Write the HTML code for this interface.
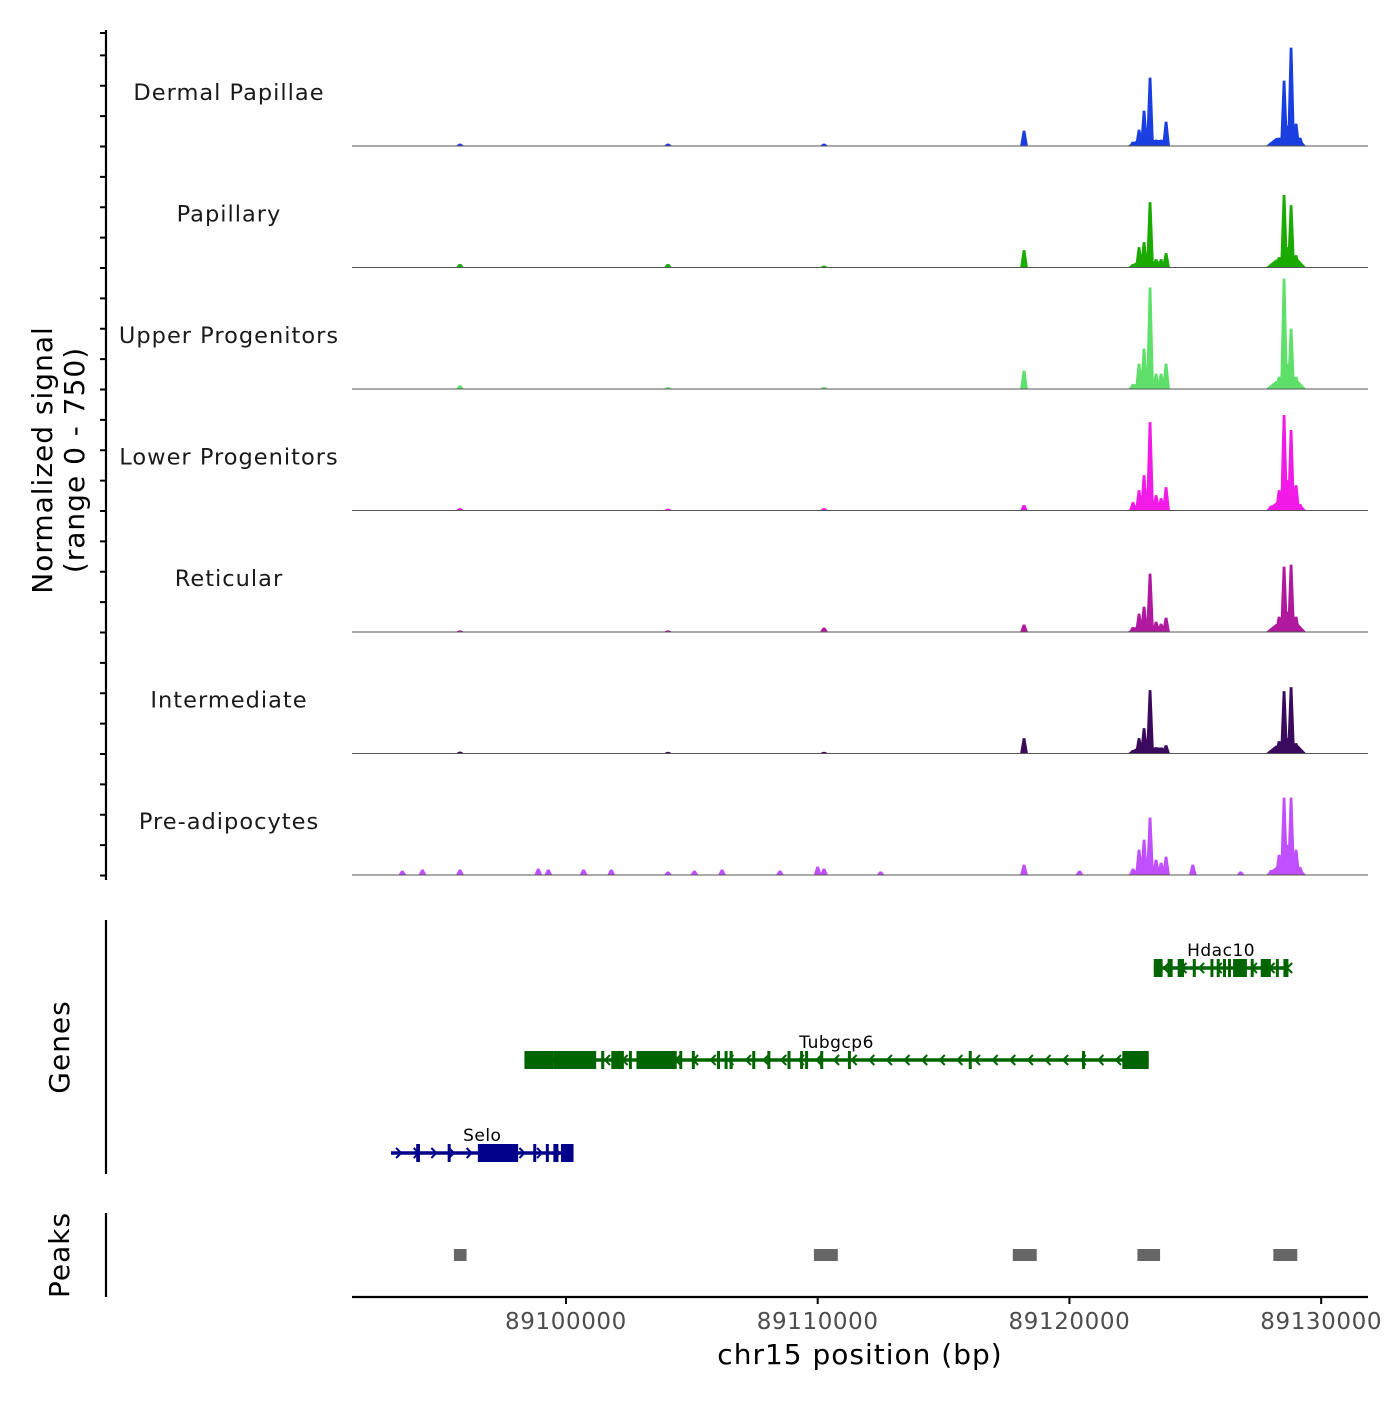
<!DOCTYPE html>
<html><head><meta charset="utf-8"><style>
body{margin:0;background:#fff}
svg text{font-family:"DejaVu Sans","Liberation Sans",sans-serif}
</style></head><body>
<svg id="chart" width="1400" height="1400"></svg>
<script>
const trackNames=["Dermal Papillae","Papillary","Upper Progenitors","Lower Progenitors","Reticular","Intermediate","Pre-adipocytes"];
const trackColors=["#1a3fe0","#1aaa00","#5ee06a","#f21ae6","#b0189e","#3a0a5e","#c050ff"];
// peak positions (bp) shared by tracks
const peakPos=[89095789,89104052,89110250,89118196,89122527,89122765,89122964,89123202,89123441,89123640,89123838,89128010,89128327,89128526,89128685,89128804,89129003,89129162];
// signal heights (0-750 scale)
const sigDermal=[13,13,13,98,26,104,228,443,39,39,156,20,52,424,130,639,143,52];
const sigPapillary=[20,20,10,111,20,130,163,424,52,52,91,15,65,470,130,404,78,20];
const sigUpper=[20,10,10,117,30,163,261,659,98,98,163,20,78,717,163,391,78,20];
const sigLower=[13,10,13,33,52,130,228,574,98,78,150,30,130,620,196,522,163,40];
const sigReticular=[8,8,26,46,30,117,163,378,65,52,91,20,98,424,130,437,98,30];
const sigIntermediate=[10,8,8,98,20,98,163,411,39,33,52,20,78,404,98,430,65,20];
const sigPreadipo=[33,20,40,65,40,163,228,372,98,78,117,30,130,502,196,502,163,50];
const signals=[sigDermal,sigPapillary,sigUpper,sigLower,sigReticular,sigIntermediate,sigPreadipo];
// extra small peaks for pre-adipocytes
const preExtraPos=[89093500,89094300,89098900,89099300,89100700,89101800,89105100,89106200,89108500,89110000,89112500,89120400,89124900,89126800];
const preExtraVal=[26,33,39,33,33,33,26,33,26,52,20,26,65,20];
// gene models
const geneNames=["Hdac10","Tubgcp6","Selo"];
const geneStart=[89123350,89098350,89093050];
const geneEnd=[89128700,89123150,89100300];
const geneRow=[0,1,2];
const geneStrand=[-1,-1,1];
const geneColor=["#006400","#006400","#00008b"];
const exonsHdac10=[[89123350,89123700],[89123900,89124100],[89124300,89124550],[89124900,89125000],[89125600,89125700],[89125850,89125950],[89126100,89126200],[89126300,89126400],[89126500,89127050],[89127200,89127300],[89127600,89128000],[89128200,89128300],[89128500,89128700]];
const exonsTubgcp6=[[89098350,89099500],[89099500,89101200],[89101400,89101500],[89101800,89102300],[89102500,89102600],[89102800,89104400],[89104500,89104600],[89105000,89105100],[89106000,89106100],[89106300,89106400],[89106500,89106600],[89107400,89107500],[89108000,89108100],[89108800,89108900],[89109300,89109400],[89109500,89109600],[89110100,89110200],[89111200,89111300],[89116000,89116100],[89120500,89120600],[89122100,89123150]];
const exonsSelo=[[89094050,89094200],[89095300,89095400],[89096500,89098100],[89098700,89098800],[89099200,89099300],[89099500,89099700],[89099800,89100300]];
const exonLists=[exonsHdac10,exonsTubgcp6,exonsSelo];
const peakStarts=[89095550,89109850,89117750,89122700,89128100];
const peakEnds=[89096050,89110800,89118700,89123600,89129050];
const xTicks=[89100000,89110000,89120000,89130000];

const NS="http://www.w3.org/2000/svg";
const svg=document.getElementById('chart');
function mk(t,a,p){const e=document.createElementNS(NS,t);for(const k in a)e.setAttribute(k,a[k]);(p||svg).appendChild(e);return e;}
const X0=352,X1=1368,BP0=89091500,BP1=89131860;
const xs=bp=>X0+(bp-BP0)/(BP1-BP0)*(X1-X0);
const TH=115, base0=146, step=121.5;
const ys=(v,b)=>b-v/750*TH;

// y axis
let ax=mk('line',{x1:106,y1:30,x2:106,y2:880,stroke:'#000','stroke-width':2.2});

for(let i=0;i<7;i++){for(let j=0;j<4;j++){const y=base0+i*step-j*step/4+0.5;const t=mk('line',{x1:100,y1:y,x2:106,y2:y,stroke:'#000','stroke-width':2});}}
{const t=mk('line',{x1:100,y1:33,x2:106,y2:33,stroke:'#000','stroke-width':2});}
let yt=mk('text',{transform:'translate(52,460) rotate(-90)','text-anchor':'middle','font-size':28,'letter-spacing':1});

mk('tspan',{x:0,dy:0},yt).textContent='Normalized signal';
mk('tspan',{x:0,dy:32},yt).textContent='(range 0 - 750)';

function drawTrack(i,pos,vals,extraPos,extraVal){
  const b=base0+i*step;
  const g=mk('g',{});
  const lab=mk('text',{x:229,y:b-46,'text-anchor':'middle','font-size':22.5,'letter-spacing':1,fill:'#1a1a1a'},g);lab.textContent=trackNames[i];
  
  let all=pos.map((p,k)=>[p,vals[k]]);
  if(extraPos)extraPos.forEach((p,k)=>all.push([p,extraVal[k]]));
  all.sort((a,b)=>a[0]-b[0]);
  let d='M'+X0+','+b;
  all.forEach(([p,v])=>{const x=xs(p);d+=` L${x-3.5},${b} L${x-1},${ys(v,b)} L${x+1},${ys(v,b)} L${x+3.5},${b}`;});
  d+=` L${X1},${b} Z`;
  const pa=mk('path',{d:d,fill:trackColors[i],stroke:trackColors[i],'stroke-width':0.8},g);
  
  const c1=mk('path',{d:`M${xs(89122300)},${b} L${xs(89122700)},${b-6} L${xs(89123700)},${b-6} L${xs(89124000)},${b}Z M${xs(89127800)},${b} L${xs(89128200)},${b-8} L${xs(89129100)},${b-8} L${xs(89129400)},${b}Z`,fill:trackColors[i]},g);
  
  const bl=mk('line',{x1:X0,y1:b,x2:X1,y2:b,stroke:'#555','stroke-width':1},g);
  
}
signals.forEach((s,i)=>drawTrack(i,peakPos,s,i===6?preExtraPos:null,i===6?preExtraVal:null));

// genes panel
let ga=mk('line',{x1:106,y1:920,x2:106,y2:1174,stroke:'#000','stroke-width':2.2});

let gt=mk('text',{transform:'translate(69,1047) rotate(-90)','text-anchor':'middle','font-size':28,'letter-spacing':1});
gt.textContent='Genes';
const rowY=[968,1060,1153];
geneNames.forEach((n,i)=>{
  const y=rowY[geneRow[i]],c=geneColor[i];
  const g=mk('g',{});
  mk('line',{x1:xs(geneStart[i]),y1:y,x2:xs(geneEnd[i]),y2:y,stroke:c,'stroke-width':3.5},g);
  for(let p=geneStart[i]+400;p<geneEnd[i];p+=700){const x=xs(p),s=geneStrand[i]*5;
    mk('path',{d:`M${x-s},${y-5} L${x},${y} L${x-s},${y+5}`,stroke:c,fill:'none','stroke-width':2},g);}
  exonLists[i].forEach(e=>{const x=xs(e[0]),w=Math.max(3,xs(e[1])-x);
    const r=mk('rect',{x:x,y:y-9,width:w,height:18,fill:c},g);});
  const t=mk('text',{x:(xs(geneStart[i])+xs(geneEnd[i]))/2,y:y-12,'text-anchor':'middle','font-size':17,'letter-spacing':0.5},g);t.textContent=n;
});

// peaks panel
let pa=mk('line',{x1:106,y1:1213,x2:106,y2:1297,stroke:'#000','stroke-width':2.2});

let pt=mk('text',{transform:'translate(69,1255) rotate(-90)','text-anchor':'middle','font-size':28,'letter-spacing':1});
pt.textContent='Peaks';
peakStarts.forEach((s,i)=>{const r=mk('rect',{x:xs(s),y:1249,width:xs(peakEnds[i])-xs(s),height:12,fill:'#666'});
  });

// x axis
let xa=mk('line',{x1:X0,y1:1297,x2:X1,y2:1297,stroke:'#000','stroke-width':2.2});

xTicks.forEach(v=>{const x=xs(v);
  const t=mk('line',{x1:x,y1:1297,x2:x,y2:1304,stroke:'#000','stroke-width':2});
  const l=mk('text',{x:x,y:1329,'text-anchor':'middle','font-size':23,'letter-spacing':0.6,fill:'#4d4d4d'});l.textContent=v;
  });
let xt=mk('text',{x:860,y:1364,'text-anchor':'middle','font-size':28,'letter-spacing':1});xt.textContent='chr15 position (bp)';

</script>
</body></html>
